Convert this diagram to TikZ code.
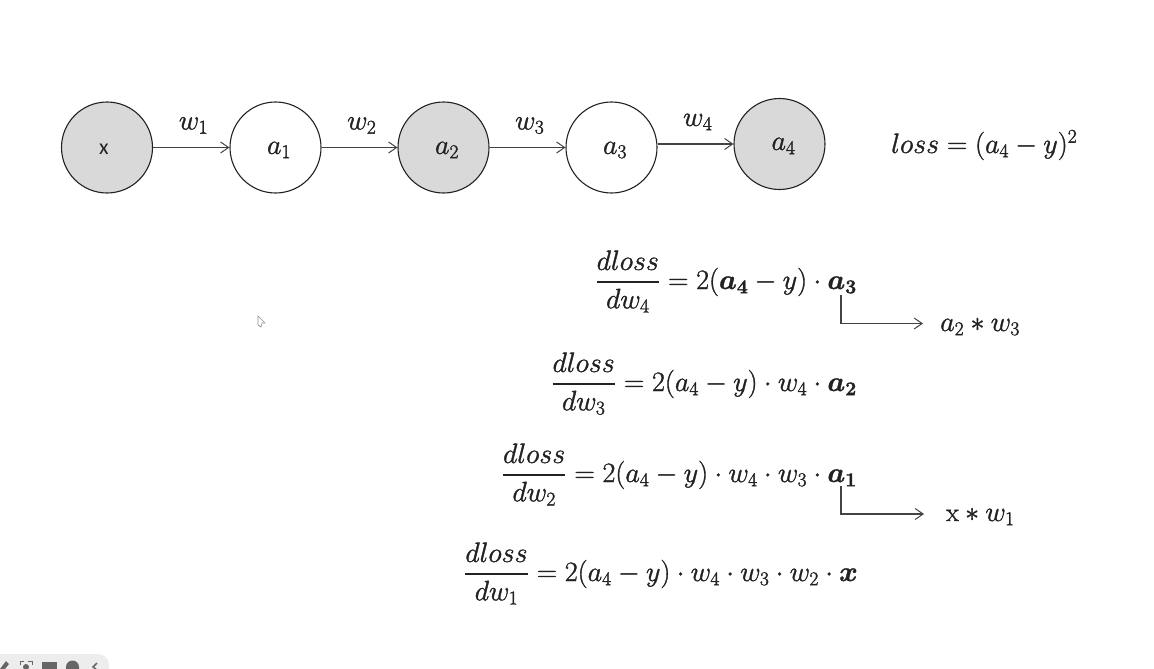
\documentclass[tikz,border=0pt]{standalone}
\usepackage{amsmath,bm}
\usepackage{fontspec}
\newfontfamily\nodefont{Carlito}
\usetikzlibrary{arrows.meta}
\DeclareMathSizes{23}{23}{18}{14}
\definecolor{nodegrey}{HTML}{D9D9D9}
\definecolor{ink}{HTML}{222222}
\definecolor{barcol}{HTML}{EDEDED}
\definecolor{iconcol}{HTML}{666666}
\newcommand{\heavy}[1]{\special{pdf: code 2 Tr 0.3 w}#1\special{pdf: code 0 Tr}}
\tikzset{
  neuron/.style={circle,draw=ink,line width=1.1pt,minimum size=91pt,inner sep=0pt},
  shaded/.style={neuron,fill=nodegrey},
  conn/.style={draw=ink!85,line width=1.1pt,-{Straight Barb[length=8pt,width=11pt,line width=1pt]}},
  mathtxt/.style={inner sep=0pt,text=ink,font=\fontsize{23}{27}\selectfont,scale=1.13,transform shape},
  eqn/.style={mathtxt,anchor=base east},
  wlabel/.style={mathtxt,pos=.5,yshift=19.5pt,xshift=2pt},
}
\newcommand{\dl}[1]{\genfrac{}{}{1.5pt}{0}{dloss}{dw_{#1}}}
\begin{document}
\begin{tikzpicture}[x=1pt,y=-1pt]
\useasboundingbox (0,0) rectangle (1154,669);
% graph
\node[shaded] (nx) at (107,147.5) {};
\node[neuron] (n1) at (275.5,147.5) {};
\node[shaded] (n2) at (443.5,147.5) {};
\node[neuron] (n3) at (611.5,147.5) {};
\node[shaded] (n4) at (779.5,144) {};
\node[inner sep=0pt,text=ink,font=\nodefont\fontsize{22}{26}\selectfont] (tx) at (104,149) {x};
\node[mathtxt] (t1) at (279,150) {\heavy{$a_1$}};
\node[mathtxt] (t2) at (447,150) {\heavy{$a_2$}};
\node[mathtxt] (t3) at (615,150) {\heavy{$a_3$}};
\node[mathtxt] (t4) at (783.5,146) {\heavy{$a_4$}};
\draw[conn] (nx) -- (n1) node[wlabel] (w1) {\heavy{$w_1$}};
\draw[conn] (n1) -- (n2) node[wlabel] (w2) {\heavy{$w_2$}};
\draw[conn] (n2) -- (n3) node[wlabel] (w3) {\heavy{$w_3$}};
\draw[conn] ([yshift=3.5pt]n3.east) -- (n4.west) node[wlabel] (w4) {\heavy{$w_4$}};
\node[mathtxt,anchor=base west] (loss) at (891,153) {\heavy{$loss=(a_4-y)^2$}};
% equations
\node[eqn] (e4) at (857,289) {\heavy{$\dl{4}=2(\bm{a_4}-y)\cdot\bm{a_3}$}};
\node[eqn] (e3) at (857,391) {\heavy{$\dl{3}=2(a_4-y)\cdot w_4\cdot\bm{a_2}$}};
\node[eqn] (e2) at (857,482) {\heavy{$\dl{2}=2(a_4-y)\cdot w_4\cdot w_3\cdot\bm{a_1}$}};
\node[eqn] (e1) at (858,581) {\heavy{$\dl{1}=2(a_4-y)\cdot w_4\cdot w_3\cdot w_2\cdot\bm{x}$}};
% side notes
\node[mathtxt,anchor=base west] (r1) at (940,331) {\heavy{$a_2*w_3$}};
\node[mathtxt,anchor=base west] (r2) at (946,521) {\heavy{$\mathrm{x}*w_1$}};
\coordinate (c1) at (841,295);
\coordinate (c2) at (841,486);
\coordinate (h1) at ([xshift=-17pt]r1.base west);
\coordinate (h2) at ([xshift=-22pt]r2.base west);
\draw[conn] (c1) |- ([yshift=7.5pt]h1);
\draw[conn] (c2) |- ([yshift=7pt]h2);
% mouse cursor
\draw[iconcol!70,line width=.7pt,fill=white] (258,316) -- (265,323) -- (262,323) -- (261,327) -- (258,325) -- cycle;
% screen toolbar
\fill[barcol] (0,669) -- (0,654) -- (98,654) arc[start angle=90,end angle=0,x radius=11,y radius=-11] -- (109,669) -- cycle;
\fill[iconcol] (0,669) -- (6,661) -- (9,664) -- (5,669) -- cycle;
\draw[iconcol,line width=1pt] (20,665) |- (24,661) (28,661) -| (32,665);
\fill[iconcol] (26,667) circle[radius=3pt];
\fill[iconcol] (42,662) rectangle (57,669);
\fill[iconcol] (66,669) -- (66,667) arc[start angle=180,end angle=0,x radius=6.5,y radius=-6.5] -- (79,669) -- cycle;
\draw[iconcol,line width=1.5pt] (97,663) -- (93,667) -- (96,669);
\end{tikzpicture}
\end{document}
